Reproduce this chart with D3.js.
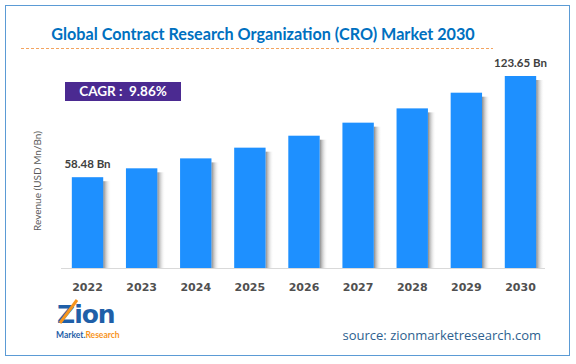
<!DOCTYPE html>
<html lang="en">
<head>
<meta charset="UTF-8">
<title>Global Contract Research Organization (CRO) Market 2030</title>
<style>
    body { margin: 0; padding: 0; background: #fff; }
    svg { display: block; }
</style>
</head>
<body>
<svg id="chart" width="576" height="364"></svg>
<script src="https://d3js.org/d3.v7.min.js"></script>
<script>
const years = ["2022", "2023", "2024", "2025", "2026", "2027", "2028", "2029", "2030"];
const revenue = [58.48, 64.2, 70.6, 77.5, 85.2, 93.6, 102.8, 112.9, 123.65];
const valueLabels = ["58.48 Bn", "", "", "", "", "", "", "", "123.65 Bn"];
const cagrText = "CAGR :  9.86%";

const svg = d3.select("#chart");

// shadow gradient for the bars
const defs = svg.append("defs");
const grad = defs.append("linearGradient").attr("id", "shadow");
grad.append("stop").attr("offset", "0%").attr("stop-color", "#7a7a7a").attr("stop-opacity", 0.9);
grad.append("stop").attr("offset", "100%").attr("stop-color", "#ffffff").attr("stop-opacity", 0);

// frame
svg.append("rect")
    .attr("x", 5.5).attr("y", 5.5)
    .attr("width", 564).attr("height", 350)
    .attr("fill", "none").attr("stroke", "#5b9bd5").attr("stroke-width", 1);

// title
svg.append("text")
    .attr("x", 263).attr("y", 40)
    .attr("text-anchor", "middle")
    .attr("font-family", "Lato, 'Open Sans', sans-serif")
    .attr("font-weight", "bold")
    .attr("font-size", 16.2)
    .attr("fill", "#0070c0")
    .text("Global Contract Research Organization (CRO) Market 2030");

svg.append("line")
    .attr("x1", 21).attr("x2", 493)
    .attr("y1", 48.5).attr("y2", 48.5)
    .attr("stroke", "#f4a460").attr("stroke-width", 1)
    .attr("stroke-dasharray", "3,2");

const x = d3.scaleBand()
    .domain(years)
    .range([61, 547])
    .paddingInner(0.42)
    .paddingOuter(0.2);

const y = d3.scaleLinear()
    .domain([0, 123.65])
    .range([268, 76]);

// baseline axis
svg.append("line")
    .attr("x1", 61).attr("x2", 545)
    .attr("y1", 268.5).attr("y2", 268.5)
    .attr("stroke", "#d9d9d9");

const bars = svg.append("g");

bars.selectAll(".shadow")
    .data(revenue)
    .enter().append("rect")
    .attr("class", "shadow")
    .attr("x", (d, i) => x(years[i]) + x.bandwidth())
    .attr("y", d => y(d) + 4)
    .attr("width", 8)
    .attr("height", d => y(0) - y(d) - 4)
    .attr("fill", "url(#shadow)");

bars.selectAll(".bar")
    .data(revenue)
    .enter().append("rect")
    .attr("class", "bar")
    .attr("x", (d, i) => x(years[i]))
    .attr("y", d => y(d))
    .attr("width", x.bandwidth())
    .attr("height", d => y(0) - y(d))
    .attr("fill", "#1e90ff");

bars.selectAll(".val")
    .data(revenue)
    .enter().append("text")
    .attr("class", "val")
    .attr("x", (d, i) => x(years[i]) + x.bandwidth() / 2)
    .attr("y", d => y(d) - 9)
    .attr("text-anchor", "middle")
    .attr("font-family", "Lato, 'Open Sans', sans-serif")
    .attr("font-weight", "bold")
    .attr("font-size", 11.5)
    .attr("fill", "#404040")
    .text((d, i) => valueLabels[i]);

// x axis labels
svg.append("g")
    .attr("transform", "translate(0,268)")
    .call(d3.axisBottom(x).tickSize(0).tickPadding(15))
    .call(g => g.select(".domain").remove())
    .selectAll("text")
    .attr("font-family", "Verdana, 'DejaVu Sans', sans-serif")
    .attr("font-weight", "bold")
    .attr("font-size", 11)
    .attr("fill", "#505050");

// y axis title
svg.append("text")
    .attr("transform", "translate(41,181) rotate(-90)")
    .attr("text-anchor", "middle")
    .attr("font-family", "Lato, 'Open Sans', sans-serif")
    .attr("font-size", 10)
    .attr("fill", "#595959")
    .text("Revenue (USD Mn/Bn)");

// CAGR box
svg.append("rect")
    .attr("x", 65).attr("y", 82)
    .attr("width", 116).attr("height", 19)
    .attr("fill", "#4b2a91");
svg.append("text")
    .attr("x", 123).attr("y", 96)
    .attr("text-anchor", "middle")
    .attr("font-family", "Lato, 'Open Sans', sans-serif")
    .attr("font-weight", "bold")
    .attr("font-size", 13.5)
    .attr("fill", "#ffffff")
    .style("white-space", "pre")
    .text(cagrText);

// logo
const logo = svg.append("g");
logo.append("text")
    .attr("x", 57).attr("y", 323)
    .attr("font-family", "'DejaVu Sans', sans-serif")
    .attr("font-weight", "bold")
    .attr("font-size", 25)
    .attr("letter-spacing", -1)
    .attr("fill", "#1f5fa8")
    .text("Zion");
logo.append("line")
    .attr("x1", 60).attr("y1", 323).attr("x2", 77).attr("y2", 300)
    .attr("stroke", "#f7941d").attr("stroke-width", 3);
logo.append("text")
    .attr("x", 56).attr("y", 338)
    .attr("font-family", "Lato, sans-serif")
    .attr("font-weight", "bold")
    .attr("font-size", 8.5)
    .attr("fill", "#1f5fa8")
    .text("Market.")
    .append("tspan")
    .attr("fill", "#f7941d")
    .text("Research");

// source
svg.append("text")
    .attr("x", 541).attr("y", 340)
    .attr("text-anchor", "end")
    .attr("font-family", "'Open Sans', sans-serif")
    .attr("font-size", 13)
    .attr("fill", "#2e5f8f")
    .text("source: zionmarketresearch.com");
</script>
</body>
</html>
